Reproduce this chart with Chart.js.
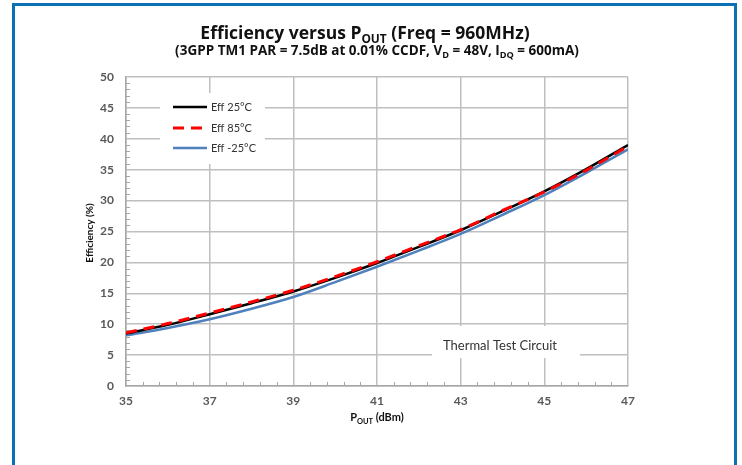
<!DOCTYPE html>
<html>
<head>
<meta charset="utf-8">
<script src="https://cdn.jsdelivr.net/npm/chart.js@4.4.1/dist/chart.umd.min.js"></script>
<style>
    html, body { margin: 0; padding: 0; background: #fff; }
    #wrap { position: relative; width: 742px; height: 465px; overflow: hidden; }
    #frame {
        position: absolute; left: 12px; top: 3px; width: 719px; height: 480px;
        border: 3px solid #0b71b4; pointer-events: none;
    }
    canvas { position: absolute; left: 0; top: 0; }
</style>
</head>
<body>
<div id="wrap">
    <canvas id="effChart" width="742" height="465"></canvas>
    <div id="frame"></div>
</div>
<script>
// Output power (dBm) and drain efficiency (%) per case temperature
const pout = [35, 36, 37, 38, 39, 40, 41, 42, 43, 44, 45, 46, 47];
const eff25 = [8.5, 9.9, 11.6, 13.4, 15.3, 17.5, 19.9, 22.5, 25.2, 28.3, 31.5, 35.1, 39.0];
const eff85 = [8.6, 10.1, 11.8, 13.6, 15.5, 17.7, 20.1, 22.7, 25.3, 28.4, 31.4, 34.9, 38.8];
const effMinus25 = [8.2, 9.4, 10.8, 12.5, 14.4, 16.8, 19.3, 21.9, 24.6, 27.7, 30.9, 34.5, 38.3];

const seriesNames = ['Eff 25°C', 'Eff 85°C', 'Eff -25°C'];
const xTicks = [35, 37, 39, 41, 43, 45, 47];
const yTicks = [0, 5, 10, 15, 20, 25, 30, 35, 40, 45, 50];

const FONT = 'Lato, "Open Sans", sans-serif';
const TITLE_FONT = '"Open Sans", Lato, sans-serif';
const GRID = '#bfbfbf';

function toPoints(ys) {
    return pout.map((x, i) => ({ x: x, y: ys[i] }));
}

// text with subscript runs, e.g. [['P', 0], ['OUT', 1]]
function richWidth(ctx, parts, size, weight, family) {
    let w = 0;
    parts.forEach(p => {
        ctx.font = weight + ' ' + (p[1] ? size * 0.68 : size) + 'px ' + family;
        w += ctx.measureText(p[0]).width;
    });
    return w;
}

function drawRich(ctx, parts, cx, baseline, size, weight, color, family) {
    family = family || FONT;
    let x = cx - richWidth(ctx, parts, size, weight, family) / 2;
    ctx.fillStyle = color;
    ctx.textAlign = 'left';
    ctx.textBaseline = 'alphabetic';
    parts.forEach(p => {
        const s = p[1] ? size * 0.68 : size;
        ctx.font = weight + ' ' + s + 'px ' + family;
        ctx.fillText(p[0], x, baseline + (p[1] ? size * 0.25 : 0));
        x += ctx.measureText(p[0]).width;
    });
}

const decorations = {
    id: 'decorations',
    beforeDatasetsDraw(chart) {
        const ctx = chart.ctx;
        const xs = chart.scales.x;
        const ys = chart.scales.y;
        const area = chart.chartArea;
        ctx.save();

        // white boxes behind the legend and the circuit note
        ctx.fillStyle = '#fff';
        ctx.fillRect(160, 93, 105, 71);
        ctx.fillRect(432, 326, 148, 32);

        // minor ticks pointing into the plot
        ctx.strokeStyle = '#a6a6a6';
        ctx.lineWidth = 1;
        ctx.beginPath();
        for (let i = 0; i <= 30; i++) {
            if (i % 5 === 0) continue;
            const px = Math.round(xs.getPixelForValue(35 + i * 0.4)) + 0.5;
            ctx.moveTo(px, area.bottom);
            ctx.lineTo(px, area.bottom - 4);
        }
        for (let v = 0; v <= 50; v++) {
            if (v % 5 === 0) continue;
            const py = Math.round(ys.getPixelForValue(v)) + 0.5;
            ctx.moveTo(area.left, py);
            ctx.lineTo(area.left + 4, py);
        }
        ctx.stroke();
        ctx.restore();
    },
    afterDraw(chart) {
        const ctx = chart.ctx;
        const area = chart.chartArea;
        ctx.save();

        drawRich(ctx, [['Efficiency versus P', 0], ['OUT', 1], [' (Freq = 960MHz)', 0]],
            365, 39, 17.5, 'bold', '#111', TITLE_FONT);
        drawRich(ctx, [['(3GPP TM1 PAR = 7.5dB at 0.01% CCDF, V', 0], ['D', 1],
            [' = 48V, I', 0], ['DQ', 1], [' = 600mA)', 0]],
            377, 55, 13.5, 'bold', '#111', TITLE_FONT);

        // axis titles
        drawRich(ctx, [['P', 0], ['OUT', 1], [' (dBm)', 0]], (area.left + area.right) / 2, 421, 11, 'bold', '#111');
        ctx.save();
        ctx.translate(93, 233);
        ctx.rotate(-Math.PI / 2);
        drawRich(ctx, [['Efficiency (%)', 0]], 0, 0, 10, 'bold', '#111');
        ctx.restore();

        // legend
        const rows = [107, 128, 148];
        chart.data.datasets.forEach((ds, i) => {
            ctx.strokeStyle = ds.borderColor;
            ctx.lineWidth = ds.borderWidth;
            ctx.setLineDash(ds.borderDash || []);
            ctx.beginPath();
            ctx.moveTo(173, rows[i]);
            ctx.lineTo(207, rows[i]);
            ctx.stroke();
            ctx.setLineDash([]);
            ctx.fillStyle = '#333';
            ctx.font = '11px ' + FONT;
            ctx.textAlign = 'left';
            ctx.textBaseline = 'middle';
            ctx.fillText(ds.label, 211, rows[i]);
        });

        ctx.font = '13px ' + FONT;
        ctx.fillStyle = '#333';
        ctx.textAlign = 'center';
        ctx.textBaseline = 'middle';
        ctx.fillText('Thermal Test Circuit', 500, 346);
        ctx.restore();
    }
};

const ctx = document.getElementById('effChart').getContext('2d');
const effChart = new Chart(ctx, {
    type: 'line',
    data: {
        datasets: [
            {
                label: seriesNames[0],
                data: toPoints(eff25),
                borderColor: '#000000',
                borderWidth: 2.5,
                order: 2
            },
            {
                label: seriesNames[1],
                data: toPoints(eff85),
                borderColor: '#ff0000',
                borderWidth: 3,
                borderDash: [11, 7],
                order: 1
            },
            {
                label: seriesNames[2],
                data: toPoints(effMinus25),
                borderColor: '#4f81bd',
                borderWidth: 2.5,
                order: 3
            }
        ]
    },
    options: {
        responsive: false,
        animation: false,
        layout: { padding: { top: 77, right: 114, left: 0, bottom: 0 } },
        elements: {
            point: { radius: 0 },
            line: { cubicInterpolationMode: 'monotone', fill: false }
        },
        plugins: {
            legend: { display: false },
            tooltip: { enabled: false }
        },
        scales: {
            x: {
                type: 'linear',
                min: 35,
                max: 47,
                afterBuildTicks: scale => { scale.ticks = xTicks.map(v => ({ value: v })); },
                afterFit: scale => { scale.height = 79; },
                grid: { color: GRID, lineWidth: 1.5, drawTicks: false },
                border: { color: '#a6a6a6', width: 1.5 },
                ticks: {
                    padding: 8,
                    color: '#595959',
                    font: { family: FONT, size: 12, weight: 'bold' }
                }
            },
            y: {
                min: 0,
                max: 50,
                afterBuildTicks: scale => { scale.ticks = yTicks.map(v => ({ value: v })); },
                afterFit: scale => { scale.width = 126; },
                grid: { color: GRID, lineWidth: 1.5, drawTicks: false },
                border: { color: '#a6a6a6', width: 1.5 },
                ticks: {
                    padding: 12,
                    color: '#595959',
                    font: { family: FONT, size: 12, weight: 'bold' }
                }
            }
        }
    },
    plugins: [decorations]
});
</script>
</body>
</html>
